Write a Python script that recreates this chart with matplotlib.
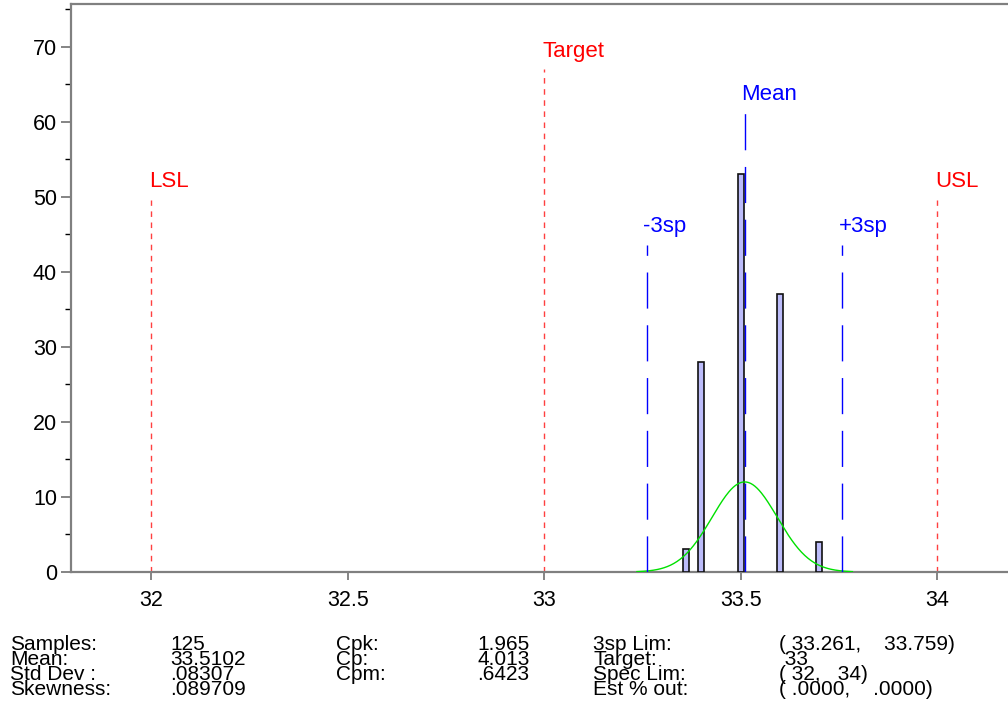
import numpy as np
import matplotlib
matplotlib.use("Agg")
import matplotlib.pyplot as plt
from matplotlib.ticker import MultipleLocator

plt.rcParams['font.family'] = ['Liberation Sans', 'DejaVu Sans']
plt.rcParams['lines.scale_dashes'] = False

# histogram of the measurements
bin_centers = [33.36, 33.40, 33.50, 33.60, 33.70]
bin_counts = [3, 28, 53, 37, 4]
bin_width = 0.02

# summary statistics
n_samples = 125
mean = 33.5102
std_dev = 0.08307
lsl, target, usl = 32, 33, 34
lim_lo, lim_hi = 33.261, 33.759

x_ticks = [32, 32.5, 33, 33.5, 34]
x_tick_labels = ["32", "32.5", "33", "33.5", "34"]

# stats table, one list per column
stat_names_1 = ["Samples:", "Mean:", "Std Dev :", "Skewness:"]
stat_vals_1 = ["125", "33.5102", ".08307", ".089709"]
stat_names_2 = ["Cpk:", "Cp:", "Cpm:"]
stat_vals_2 = ["1.965", "4.013", ".6423"]
stat_names_3 = ["3sp Lim:", "Target:", "Spec Lim:", "Est % out:"]
stat_vals_3 = ["( 33.261,    33.759)", " 33", "( 32,   34)", "( .0000,    .0000)"]

W, H = 1008, 722
fig = plt.figure(figsize=(W / 100, H / 100), dpi=100)
ax = fig.add_axes([71 / W, 150 / H, (W - 71) / W, 568 / H])

ax.bar(bin_centers, bin_counts, width=0.015, color="#bcbcfa",
       edgecolor="#101010", linewidth=1.2, zorder=3)

# fitted normal curve, scaled to counts
xs = np.linspace(mean - 3.3 * std_dev, mean + 3.3 * std_dev, 200)
ys = n_samples * bin_width / (std_dev * np.sqrt(2 * np.pi)) * np.exp(-0.5 * ((xs - mean) / std_dev) ** 2)
ax.plot(xs, ys, color="#00e000", linewidth=1.0, zorder=4)

red = "#ff0000"
blue = "#0000ff"
# spec lines: (x, line top, label, label baseline)
for xv, top, lab, yb in [(lsl, 49.6, "LSL", 51.3), (target, 67.1, "Target", 68.7), (usl, 49.6, "USL", 51.3)]:
    ax.plot([xv, xv], [0, top], color="#ff4040", linewidth=1.0, dashes=(4, 4), zorder=2)
    ax.text(xv - 0.005, yb, lab, color=red, fontsize=16, ha="left", va="baseline")

for xv, top, lab, yb in [(lim_lo, 43.6, "-3sp", 45.3), (mean, 61.2, "Mean", 62.9), (lim_hi, 43.6, "+3sp", 45.3)]:
    ax.plot([xv, xv], [0, top], color=blue, linewidth=1.0, dashes=(26, 12), zorder=5)
    ax.text(xv - 0.009, yb, lab, color=blue, fontsize=16, ha="left", va="baseline")

ax.set_xlim(31.796, 31.796 + (W - 71) / 393)
ax.set_ylim(0, 75.7)
ax.set_xticks(x_ticks)
ax.set_xticklabels(x_tick_labels)
ax.yaxis.set_major_locator(MultipleLocator(10))
ax.yaxis.set_minor_locator(MultipleLocator(5))
ax.tick_params(axis="both", labelsize=15.5, color="#707070", width=1.2)
ax.tick_params(axis="x", length=6, pad=7)
ax.tick_params(axis="y", which="major", length=7, pad=3)
ax.tick_params(axis="y", which="minor", length=4.5, width=1.0)
for side in ["left", "bottom", "top"]:
    ax.spines[side].set_color("#808080")
    ax.spines[side].set_linewidth(1.6)
ax.spines["right"].set_visible(False)

cols = [(10, stat_names_1), (170, stat_vals_1), (336, stat_names_2), (477, stat_vals_2),
        (593, stat_names_3), (779, stat_vals_3)]
for x0, lines in cols:
    fig.text(x0 / W, 1 - 635 / H, "\n".join(lines), fontsize=15, ha="left", va="top",
             linespacing=0.73)

fig.savefig("out.png", dpi=100)
